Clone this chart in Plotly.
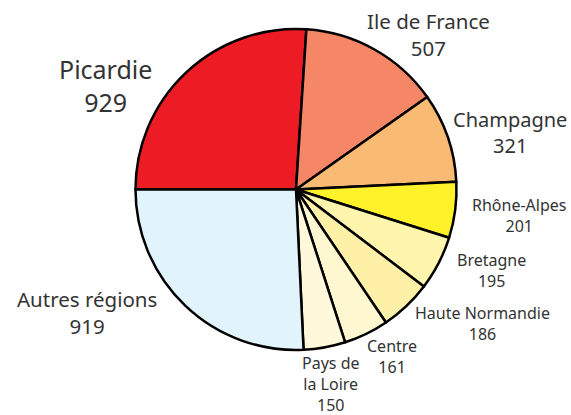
import plotly.graph_objects as go

regions = ["Picardie", "Ile de France", "Champagne", "Rhône-Alpes", "Bretagne",
           "Haute Normandie", "Centre", "Pays de la Loire", "Autres régions"]
values = [929, 507, 321, 201, 195, 186, 161, 150, 919]
label_text = ["Picardie", "Ile de France", "Champagne", "Rhône-Alpes", "Bretagne",
              "Haute Normandie", "Centre", "Pays de<br>la Loire", "Autres régions"]

colors = ["#ED1C24", "#F58767", "#F9BA73", "#FFF22A", "#FFF5AC",
          "#FFF0A8", "#FFF7CF", "#FFF8DA", "#E1F3FB"]
font_sizes = [25, 20.5, 20, 16, 16, 16, 16, 16, 20.5]
# label block centres in pixels (x, y from top)
label_px = [(105, 85), (428, 35), (510, 132), (519, 215), (491, 270),
            (482, 323), (392, 356), (331, 384), (87, 312)]

W, H = 571, 415
cx, cy, r = 296, 189.5, 160.5

fig = go.Figure(go.Pie(
    labels=regions, values=values, sort=False, direction="clockwise",
    rotation=-90, textinfo="none", hoverinfo="label+value",
    marker=dict(colors=colors, line=dict(color="black", width=2.5)),
    domain=dict(x=[(cx - r) / W, (cx + r) / W],
                y=[(H - cy - r) / H, (H - cy + r) / H]),
    showlegend=False,
))

for txt, v, fs, (px, py) in zip(label_text, values, font_sizes, label_px):
    fig.add_annotation(
        x=px / W, y=1 - py / H, xref="paper", yref="paper",
        xanchor="center", yanchor="middle", showarrow=False,
        text=f"{txt}<br>{v}", align="center",
        font=dict(size=fs, color="#333333", family="Noto Sans"),
    )

fig.update_layout(width=W, height=H, margin=dict(l=0, r=0, t=0, b=0),
                  paper_bgcolor="white", plot_bgcolor="white")
fig.write_html("out.html", config={"displayModeBar": False},
               post_script="document.body.style.margin='0';document.body.style.overflow='hidden';")
